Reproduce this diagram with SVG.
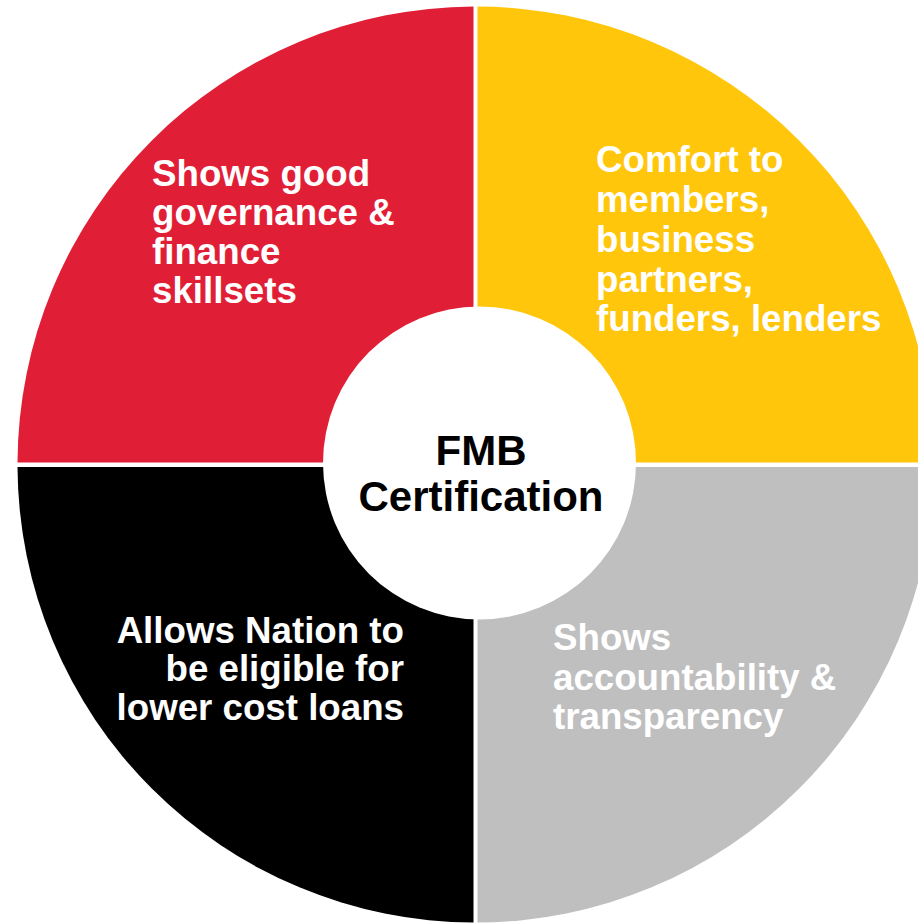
<svg xmlns="http://www.w3.org/2000/svg" width="918" height="923" viewBox="0 0 918 923">
<style>
.lbl{font-family:"Liberation Sans",Arial,sans-serif;font-weight:bold;font-size:36.7px;fill:#ffffff}
.ctr{font-family:"Liberation Sans",Arial,sans-serif;font-weight:bold;font-size:42px;fill:#000000;text-anchor:middle}
</style>
<rect width="918" height="923" fill="#ffffff"/>
<g id="q-governance">
<path d="M473.5,462.5 L473.5,6.5 A458,458 0 0 0 17.5,462.5 Z" fill="#E01F36"/>
<text class="lbl" x="152" y="186">Shows good</text>
<text class="lbl" x="152" y="225">governance &amp;</text>
<text class="lbl" x="152" y="264">finance</text>
<text class="lbl" x="152" y="303">skillsets</text>
</g>
<g id="q-comfort">
<path d="M477.5,462.5 L477.5,6.5 A458,458 0 0 1 933.5,462.5 Z" fill="#FFC60B"/>
<text class="lbl" x="596" y="172">Comfort to</text>
<text class="lbl" x="596" y="212">members,</text>
<text class="lbl" x="596" y="252">business</text>
<text class="lbl" x="596" y="292">partners,</text>
<text class="lbl" x="596" y="331">funders, lenders</text>
</g>
<g id="q-accountability">
<path d="M477.5,467 L933.5,467 A458,458 0 0 1 477.5,922.5 Z" fill="#BFBFBF"/>
<text class="lbl" x="553" y="650">Shows</text>
<text class="lbl" x="553" y="690">accountability &amp;</text>
<text class="lbl" x="553" y="729">transparency</text>
</g>
<g id="q-loans">
<path d="M473.5,467 L473.5,922.5 A458,458 0 0 1 17.5,467 Z" fill="#000000"/>
<text class="lbl" x="404" y="643" text-anchor="end">Allows Nation to</text>
<text class="lbl" x="404" y="681" text-anchor="end">be eligible for</text>
<text class="lbl" x="404" y="720" text-anchor="end">lower cost loans</text>
</g>
<g id="center">
<circle cx="479.5" cy="463" r="156.5" fill="#ffffff"/>
<text class="ctr" x="481" y="465">FMB</text>
<text class="ctr" x="481" y="511">Certification</text>
</g>
<g id="connectors"/>
</svg>
